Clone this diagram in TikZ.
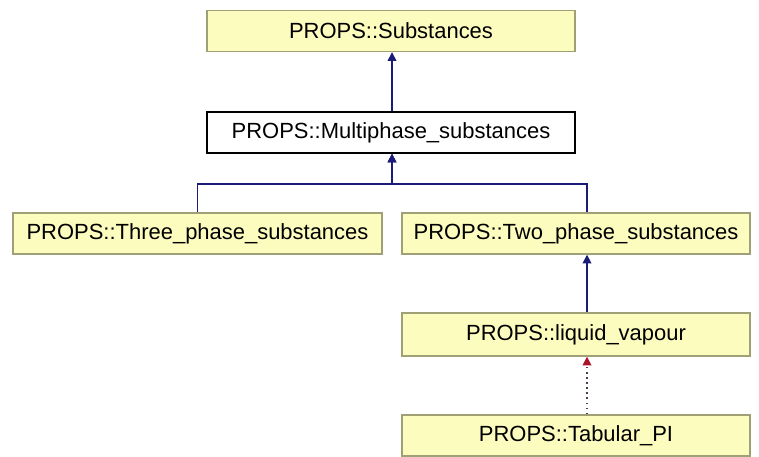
\documentclass[tikz,border=0pt]{standalone}
\usepackage{fontspec}
\setmainfont{Liberation Sans}
\usepackage{xcolor}
\usetikzlibrary{positioning,calc,arrows.meta}

\definecolor{classfill}{RGB}{252,252,190}
\definecolor{classedge}{RGB}{160,160,118}
\definecolor{inhline}{RGB}{28,28,120}
\definecolor{tmplhead}{RGB}{170,20,40}
\definecolor{tmplline}{RGB}{80,60,80}

\begin{document}
\begin{tikzpicture}[x=0.02cm,y=-0.02cm,
		every node/.style={font=\fontsize{12.5}{15}\selectfont},
		cls/.style={draw=classedge,fill=classfill,line width=0.8pt,minimum height=0.82cm,inner sep=0pt},
		curcls/.style={cls,draw=black,fill=white},
		inherit/.style={draw=inhline,line width=0.9pt,-{Triangle[length=5pt,width=5pt]}},
		tmpl/.style={draw=tmplline,line width=0.9pt,dotted,-{Triangle[length=5pt,width=5pt,color=tmplhead,fill=tmplhead]}}]
		
		\useasboundingbox (0,0) rectangle (759,456);
		
		% class boxes
		\node[cls,minimum width=7.36cm] (subst) at (391,31) {PROPS::Substances};
		\node[curcls,minimum width=7.36cm] (multi) at (391,132.5) {PROPS::Multiphase\_substances};
		
		\node[cls,minimum width=7.38cm] (three) at (197.5,233.5) {PROPS::Three\_phase\_substances};
		\node[cls,minimum width=6.96cm] (two) at (576,233.5) {PROPS::Two\_phase\_substances};
		
		\node[cls,minimum width=6.96cm,minimum height=0.86cm] (liquid) at (576,334.5) {PROPS::liquid\_vapour};
		\node[cls,minimum width=6.96cm] (tabular) at (576,435.5) {PROPS::Tabular\_PI};
		
		% edge routing
		\coordinate (fork) at (392,184);
		\coordinate (rcol) at (587,0);
		
		\draw[inherit] (multi.north -| fork) -- (subst.south -| fork);
		
		\draw[inherit] (three.north) |- (fork) -- (multi.south -| fork);
		\draw[inherit] (two.north -| rcol) |- (fork) -- (multi.south -| fork);
		
		\draw[inherit] (liquid.north -| rcol) -- (two.south -| rcol);
		\draw[tmpl] (tabular.north -| rcol) -- (liquid.south -| rcol);
		
	\end{tikzpicture}
\end{document}
